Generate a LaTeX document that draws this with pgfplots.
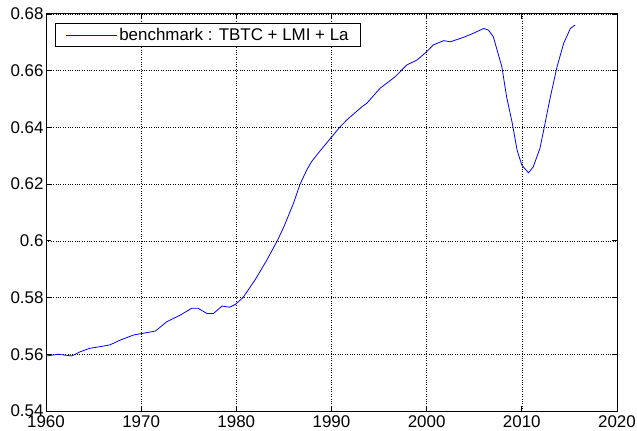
\documentclass[border=0pt]{standalone}
\usepackage{pgfplots}
\pgfplotsset{compat=1.18}
\usepackage{fontspec}
\setmainfont{Liberation Sans}
\pgfplotstableread{
year value
1960.0 0.5594
1961.3 0.5600
1962.7 0.5594
1963.6 0.5609
1964.6 0.5621
1965.7 0.5627
1966.7 0.5633
1967.8 0.5650
1969.2 0.5668
1970.2 0.5674
1971.5 0.5682
1972.7 0.5715
1974.1 0.5738
1975.3 0.5762
1976.0 0.5762
1976.9 0.5744
1977.6 0.5744
1978.5 0.5770
1979.3 0.5766
1979.9 0.5776
1980.7 0.5800
1982.0 0.5864
1983.2 0.5932
1984.3 0.6000
1985.0 0.6050
1986.0 0.6132
1986.7 0.6200
1987.4 0.6250
1987.9 0.6279
1988.6 0.6309
1989.9 0.6362
1990.9 0.6402
1991.6 0.6426
1992.0 0.6438
1993.2 0.6473
1993.7 0.6485
1995.1 0.6538
1995.8 0.6556
1996.7 0.6579
1997.9 0.6620
1999.0 0.6638
2000.0 0.6667
2000.7 0.6691
2001.8 0.6706
2002.5 0.6702
2003.9 0.6718
2004.9 0.6732
2006.0 0.6749
2006.5 0.6743
2007.0 0.6720
2007.9 0.6614
2008.4 0.6508
2009.0 0.6414
2009.5 0.6320
2010.0 0.6267
2010.7 0.6240
2011.2 0.6261
2011.9 0.6326
2012.3 0.6391
2013.0 0.6508
2013.7 0.6614
2014.4 0.6697
2015.1 0.6749
2015.6 0.6761
}\benchmark
\begin{document}
\begin{tikzpicture}
\useasboundingbox (-46bp,-20bp) rectangle (591bp,411bp);
\begin{axis}[
  at={(0,0)}, anchor=south west,
  scale only axis, width=571bp, height=397bp,
  xmin=1960, xmax=2020, ymin=0.54, ymax=0.68,
  xtick={1960,1970,...,2020},
  ytick={0.54,0.56,0.58,0.6,0.62,0.64,0.66,0.68},
  xticklabel style={/pgf/number format/1000 sep={}, inner ysep=0.5bp, yshift=-3.5bp},
  yticklabel style={/pgf/number format/fixed,/pgf/number format/precision=2, inner ysep=0.5bp, xshift=1bp},
  /pgf/number format/assume math mode=true,
  tick label style={font=\fontsize{17}{19}\selectfont},
  tick align=inside, xtick pos=both, ytick pos=both,
  major tick length=5bp,
  tick style={black, line width=0.8bp},
  axis line style={black, line width=1bp},
  grid=major,
  major grid style={black, dotted, line width=0.6bp},
  legend style={at={(rel axis cs:0.0158,0.978)}, anchor=north west,
    draw=black, line width=1bp, font=\fontsize{17}{19}\selectfont,
    inner xsep=10bp, inner ysep=3bp, row sep=0bp},
  legend image code/.code={\draw[#1, line width=0.8bp] (0bp,0bp) -- (51bp,0bp);},
  legend cell align=left,
]
\addplot[blue, line width=0.8bp] table[x=year, y=value] {\benchmark};
\addlegendentry{benchmark : TBTC + LMI + La}
\end{axis}
\end{tikzpicture}
\end{document}
